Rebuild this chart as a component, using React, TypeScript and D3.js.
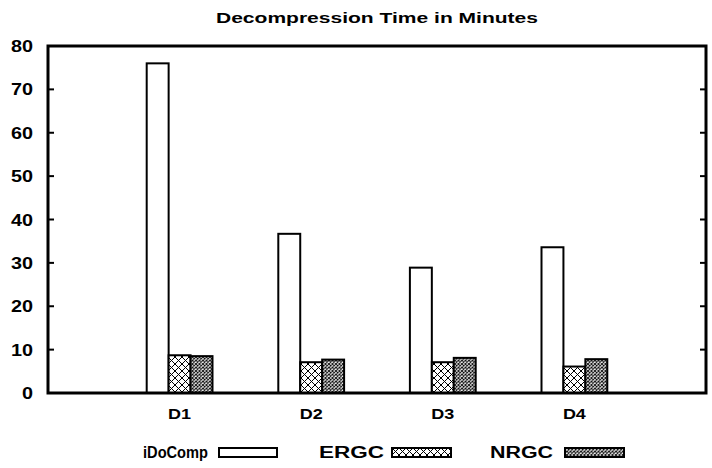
import React from "react";
import * as d3 from "d3";

const categories = ["D1", "D2", "D3", "D4"];
const seriesNames = ["iDoComp", "ERGC", "NRGC"];
const iDoComp = [76, 36.7, 28.9, 33.6];
const ERGC = [8.7, 7.1, 7.1, 6.1];
const NRGC = [8.5, 7.7, 8.1, 7.8];
const yTicks = [0, 10, 20, 30, 40, 50, 60, 70, 80];
const title = "Decompression Time in Minutes";

const W = 712, H = 468;
const left = 48, right = 706, top = 46, bottom = 393;

export default function App() {
  const series = [iDoComp, ERGC, NRGC];
  const fills = ["#fff", "url(#hatchLarge)", "url(#hatchSmall)"];
  const x = d3.scaleLinear().domain([-1, 4]).range([left, right]);
  const y = d3.scaleLinear().domain([0, 80]).range([bottom, top]);
  const bw = 1 / 6;
  const font = "'Liberation Sans', Arial, sans-serif";
  const legendItems = [
    { text: 0, tx: 143, tw: 65, bx: 219, bw: 58 },
    { text: 1, tx: 319, tw: 65, bx: 392, bw: 59 },
    { text: 2, tx: 490, tw: 63, bx: 565, bw: 59 },
  ];
  return (
    <svg width={W} height={H} style={{ position: "absolute", left: 0, top: 0, background: "#fff" }}>
      <defs>
        <pattern id="hatchLarge" patternUnits="userSpaceOnUse" width={7} height={7}>
          <rect width={7} height={7} fill="#fff" />
          <path d="M0,0L7,7M0,7L7,0" stroke="#000" strokeWidth={1} />
        </pattern>
        <pattern id="hatchSmall" patternUnits="userSpaceOnUse" width={3.5} height={3.5}>
          <rect width={3.5} height={3.5} fill="#fff" />
          <path d="M0,0L3.5,3.5M0,3.5L3.5,0" stroke="#000" strokeWidth={0.9} />
        </pattern>
      </defs>
      <rect width={W} height={H} fill="#fff" />
      <text x={(left + right) / 2} y={23} textAnchor="middle" fontFamily={font} fontWeight="bold" fontSize={15}
        textLength={322} lengthAdjust="spacingAndGlyphs">{title}</text>
      {categories.map((c, i) =>
        series.map((s, k) => {
          const x0 = x(i - 1.5 * bw + k * bw);
          const x1 = x(i - 1.5 * bw + (k + 1) * bw);
          return (
            <rect key={c + k} x={x0} y={y(s[i])} width={x1 - x0} height={y(0) - y(s[i])}
              fill={fills[k]} stroke="#000" strokeWidth={2} />
          );
        })
      )}
      {yTicks.map((t) => (
        <g key={t}>
          <line x1={left} x2={left + 6} y1={y(t)} y2={y(t)} stroke="#000" strokeWidth={2} />
          <line x1={right} x2={right - 6} y1={y(t)} y2={y(t)} stroke="#000" strokeWidth={2} />
          <text x={33} y={y(t) + 6} textAnchor="end" fontFamily={font} fontWeight="bold" fontSize={16}
            textLength={t === 0 ? 11 : 22} lengthAdjust="spacingAndGlyphs">{t}</text>
        </g>
      ))}
      {categories.map((c, i) => (
        <text key={c} x={x(i)} y={419} textAnchor="middle" fontFamily={font} fontWeight="bold" fontSize={15}
          textLength={23} lengthAdjust="spacingAndGlyphs">{c}</text>
      ))}
      <rect x={left} y={top} width={right - left} height={bottom - top} fill="none" stroke="#000" strokeWidth={3} />
      {legendItems.map((l) => (
        <g key={l.text}>
          <text x={l.tx} y={458} fontFamily={font} fontWeight="bold" fontSize={16}
            textLength={l.tw} lengthAdjust="spacingAndGlyphs">{seriesNames[l.text]}</text>
          <rect x={l.bx} y={448} width={l.bw} height={9} fill={fills[l.text]} stroke="#000" strokeWidth={2} />
        </g>
      ))}
    </svg>
  );
}
